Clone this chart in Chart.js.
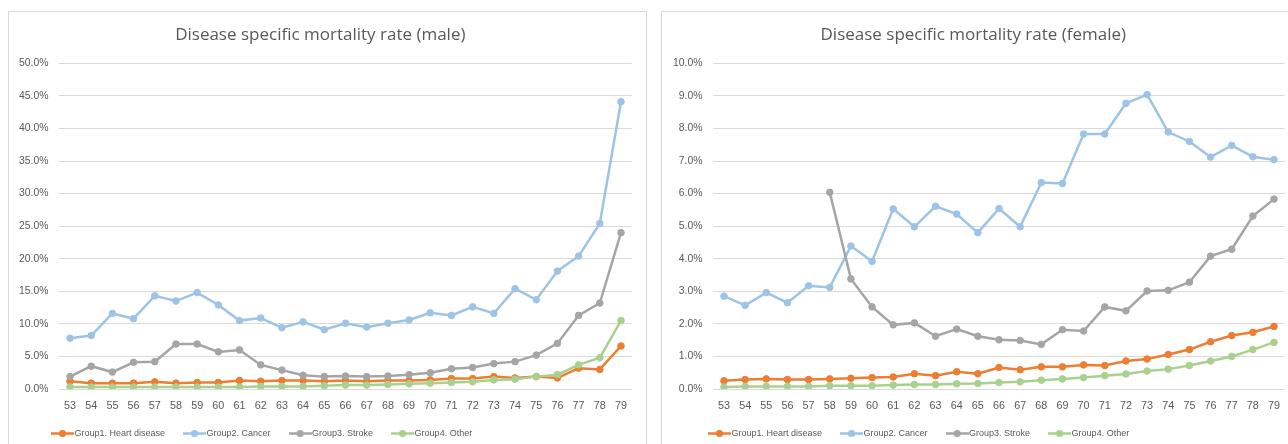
<!DOCTYPE html>
<html>
<head>
<meta charset="utf-8">
<script src="https://cdn.jsdelivr.net/npm/chart.js@4.4.1/dist/chart.umd.min.js"></script>
<style>
  html, body { margin: 0; padding: 0; background: #ffffff; overflow: hidden; }
  body { width: 1288px; height: 444px; position: relative; }
  .panel { position: absolute; border: 1px solid #d9d9d9; background: #fff; }
  #panelMale { left: 8px; top: 11px; width: 637px; height: 460px; }
  #panelFemale { left: 661px; top: 11px; width: 660px; height: 460px; }
  canvas { position: absolute; left: 0; top: 0; }
</style>
</head>
<body>
<div class="panel" id="panelMale"><canvas id="male" width="637" height="448"></canvas></div>
<div class="panel" id="panelFemale"><canvas id="female" width="637" height="448"></canvas></div>
<script>
// Age categories on the x axis
const ages = ['53','54','55','56','57','58','59','60','61','62','63','64','65','66','67','68','69','70','71','72','73','74','75','76','77','78','79'];

const seriesNames = ['Group1. Heart disease', 'Group2. Cancer', 'Group3. Stroke', 'Group4. Other'];

// Male mortality rate (%)
const maleHeart  = [1.2,0.9,0.9,0.9,1.1,0.9,1.0,1.0,1.3,1.2,1.3,1.3,1.2,1.3,1.2,1.3,1.3,1.4,1.6,1.6,1.9,1.7,1.9,1.7,3.2,3.0,6.6];
const maleCancer = [7.8,8.2,11.6,10.8,14.3,13.5,14.8,12.9,10.5,10.9,9.4,10.3,9.1,10.1,9.5,10.1,10.6,11.7,11.3,12.6,11.6,15.4,13.7,18.1,20.4,25.4,44.1];
const maleStroke = [1.9,3.5,2.6,4.1,4.2,6.9,6.9,5.7,6.0,3.7,2.9,2.1,1.9,2.0,1.9,2.0,2.2,2.5,3.1,3.3,3.9,4.2,5.2,7.0,11.3,13.2,24.0];
const maleOther  = [0.3,0.3,0.3,0.3,0.3,0.3,0.3,0.3,0.3,0.4,0.4,0.4,0.5,0.6,0.6,0.7,0.8,0.9,1.0,1.1,1.4,1.5,1.9,2.2,3.7,4.8,10.5];

// Female mortality rate (%)
const femaleHeart  = [0.25,0.29,0.31,0.29,0.29,0.31,0.33,0.35,0.37,0.47,0.41,0.53,0.47,0.66,0.59,0.68,0.68,0.74,0.72,0.86,0.92,1.06,1.21,1.45,1.64,1.74,1.92];
const femaleCancer = [2.85,2.57,2.96,2.65,3.17,3.12,4.39,3.92,5.53,4.98,5.61,5.37,4.80,5.54,4.98,6.34,6.31,7.83,7.83,8.77,9.04,7.89,7.60,7.12,7.48,7.13,7.04];
const femaleStroke = [null,null,null,null,null,6.04,3.38,2.52,1.97,2.03,1.62,1.84,1.62,1.51,1.49,1.37,1.82,1.78,2.52,2.40,3.01,3.03,3.28,4.08,4.29,5.31,5.83];
const femaleOther  = [0.06,0.08,0.08,0.08,0.08,0.10,0.10,0.10,0.12,0.14,0.14,0.16,0.17,0.20,0.22,0.27,0.31,0.35,0.41,0.46,0.55,0.61,0.72,0.86,1.00,1.21,1.43];

// Y axis ranges (%)
const maleAxis = { max: 50, step: 5 };
const femaleAxis = { max: 10, step: 1 };

const colors = ['#ED7D31', '#9DC3E6', '#A5A5A5', '#A9D18E'];
const textColor = '#595959';
const gridColor = '#d9d9d9';
const sans = "'Liberation Sans', Arial, sans-serif";

// Small line-with-dot swatch used as the legend symbol
function legendSwatch(color) {
  const c = document.createElement('canvas');
  c.width = 23; c.height = 9;
  const g = c.getContext('2d');
  g.strokeStyle = color; g.lineWidth = 2.5;
  g.beginPath(); g.moveTo(0, 4.5); g.lineTo(23, 4.5); g.stroke();
  g.fillStyle = color;
  g.beginPath(); g.arc(11.5, 4.5, 3.6, 0, Math.PI * 2); g.fill();
  return c;
}
const swatches = colors.map(legendSwatch);

// Moves the legend row after layout
const legendShift = {
  id: 'legendShift',
  afterLayout(chart, args, opts) {
    const lg = chart.legend;
    if (lg) {
      lg.left += opts.dx; lg.right += opts.dx;
      lg.top += opts.dy; lg.bottom += opts.dy;
    }
  }
};

function makeChart(id, title, values, axis, yWidth, legendDx) {
  const datasets = values.map((v, i) => ({
    label: seriesNames[i],
    data: v,
    borderColor: colors[i],
    backgroundColor: colors[i],
    pointBackgroundColor: colors[i],
    pointBorderColor: colors[i],
    borderWidth: 2.5,
    pointRadius: 3.3,
    pointBorderWidth: 1,
    tension: 0,
    spanGaps: false,
    order: 4 - i
  }));
  return new Chart(document.getElementById(id), {
    type: 'line',
    data: { labels: ages, datasets },
    plugins: [legendShift],
    options: {
      responsive: false,
      animation: false,
      devicePixelRatio: 1,
      layout: { padding: { left: 0, right: 14.4, top: 0, bottom: 0 } },
      plugins: {
        legendShift: { dx: legendDx, dy: -12 },
        title: {
          display: true,
          text: title,
          color: textColor,
          font: { family: "'Open Sans', sans-serif", size: 17, weight: 'normal', lineHeight: 1.2 },
          padding: { top: 12.8, bottom: 18.1 }
        },
        legend: {
          position: 'bottom',
          align: 'start',
          labels: {
            color: textColor,
            font: { family: sans, size: 9 },
            usePointStyle: true,
            pointStyleWidth: 15,
            padding: 22,
            sort: (a, b) => a.datasetIndex - b.datasetIndex,
            generateLabels(chart) {
              const items = Chart.defaults.plugins.legend.labels.generateLabels(chart);
              items.forEach(it => { it.pointStyle = swatches[it.datasetIndex]; });
              return items;
            }
          }
        },
        tooltip: { enabled: false }
      },
      scales: {
        x: {
          offset: true,
          grid: { display: false, drawTicks: false },
          border: { display: false },
          ticks: { color: textColor, font: { family: sans, size: 10.8 }, padding: 11, maxRotation: 0, autoSkip: false },
          afterFit(scale) { scale.height = 30; }
        },
        y: {
          min: 0,
          max: axis.max,
          grid: { color: gridColor, lineWidth: 1, drawTicks: false },
          border: { display: false },
          ticks: {
            stepSize: axis.step,
            color: textColor,
            font: { family: sans, size: 10.4 },
            padding: 11,
            callback: v => v.toFixed(1) + '%'
          },
          afterFit(scale) { scale.width = yWidth; }
        }
      }
    }
  });
}

makeChart('male', 'Disease specific mortality rate (male)',
  [maleHeart, maleCancer, maleStroke, maleOther], maleAxis, 50.4, 24);
makeChart('female', 'Disease specific mortality rate (female)',
  [femaleHeart, femaleCancer, femaleStroke, femaleOther], femaleAxis, 51.4, 28);
</script>
</body>
</html>
